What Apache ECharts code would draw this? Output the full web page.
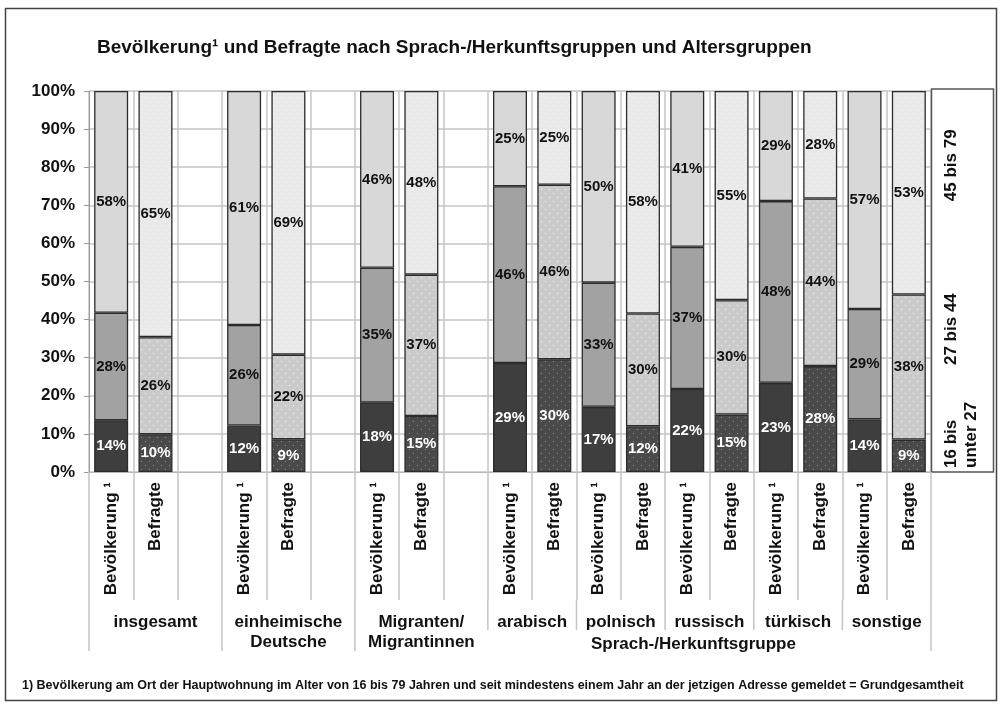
<!DOCTYPE html>
<html>
<head>
<meta charset="utf-8">
<script src="https://cdn.jsdelivr.net/npm/echarts@6/dist/echarts.min.js"></script>
<style>
html,body{margin:0;padding:0;background:#fff;}
#c{width:1003px;height:708px;}
</style>
</head>
<body>
<div id="c"></div>
<script>
// ---- data ----
const titleText = 'Bevölkerung¹ und Befragte nach Sprach-/Herkunftsgruppen und Altersgruppen';
const footnote = '1) Bevölkerung am Ort der Hauptwohnung im Alter von 16 bis 79 Jahren und seit mindestens einem Jahr an der jetzigen Adresse gemeldet = Grundgesamtheit';
const slotLabels = [
  'Bevölkerung ¹','Befragte','',
  'Bevölkerung ¹','Befragte','',
  'Bevölkerung ¹','Befragte','',
  'Bevölkerung ¹','Befragte',
  'Bevölkerung ¹','Befragte',
  'Bevölkerung ¹','Befragte',
  'Bevölkerung ¹','Befragte',
  'Bevölkerung ¹','Befragte'
];
const groupLabels = ['insgesamt','einheimische\nDeutsche','Migranten/\nMigrantinnen','arabisch','polnisch','russisch','türkisch','sonstige'];
const groupSpans = [3,3,3,2,2,2,2,2];
const superGroupLabel = 'Sprach-/Herkunftsgruppe';
const superGroupFirst = 3; // first group index belonging to the super group
const ageLabels = ['16 bis\nunter 27','27 bis 44','45 bis 79'];
const age16to26 = [13.6, 9.9, null, 12.2, 8.6, null, 18.2, 14.7, null, 28.6, 29.6, 17.1, 12.0, 21.8, 15.1, 23.4, 27.8, 13.8, 8.5];
const age27to44 = [28.2, 25.5, null, 26.4, 22.2, null, 35.4, 37.1, null, 46.4, 45.8, 32.6, 29.6, 37.3, 30.0, 47.7, 44.0, 29.0, 38.1];
const age45to79 = [58.2, 64.6, null, 61.4, 69.2, null, 46.4, 48.2, null, 25.0, 24.6, 50.3, 58.4, 40.9, 54.9, 28.9, 28.2, 57.2, 53.4];
const yTicks = [0,10,20,30,40,50,60,70,80,90,100];

// ---- styling ----
const FONT = '"Liberation Sans", Arial, Helvetica, sans-serif';
function dots(bg, dot){
  const c = document.createElement('canvas');
  c.width = 8; c.height = 8;
  const g = c.getContext('2d');
  g.fillStyle = bg; g.fillRect(0,0,8,8);
  g.fillStyle = dot;
  g.fillRect(1,1,1,1); g.fillRect(5,5,1,1);
  return {image: c, repeat: 'repeat'};
}
const solidColors = ['#3e3e3e','#a2a2a2','#d8d8d8'];
const patColors = [dots('#4a4a4a','#8c8c8c'), dots('#cbcbcb','#f2f2f2'), dots('#e9e9e9','#ffffff')];
const labelColors = ['#ffffff','#111111','#111111'];

function makeSeries(values, k){
  return {
    type: 'bar',
    stack: 'all',
    barWidth: 34,
    data: values.map((v,i)=>{
      if (v === null) return '-';
      const isResp = slotLabels[i] === 'Befragte';
      return {value: v, itemStyle: {color: isResp ? patColors[k] : solidColors[k]}};
    }),
    itemStyle: {borderColor: '#2b2b2b', borderWidth: 1.3},
    label: {
      show: true, position: 'inside',
      formatter: p => Math.round(p.value) + '%',
      color: labelColors[k], fontFamily: FONT, fontWeight: 'bold', fontSize: 15
    },
    emphasis: {disabled: true},
    silent: true
  };
}

const chart = echarts.init(document.getElementById('c'), null, {renderer: 'canvas'});
const option = {
  animation: false,
  backgroundColor: '#ffffff',
  grid: {left: 89, right: 72, top: 91, bottom: 236, containLabel: false},
  xAxis: {
    type: 'category',
    data: slotLabels,
    axisLine: {show: true, lineStyle: {color: '#b8b8b8', width: 1}},
    axisTick: {show: true, length: 128, lineStyle: {color: '#c4c4c4', width: 1.5}},
    splitLine: {show: true, lineStyle: {color: '#c4c4c4', width: 1.5}},
    axisLabel: {
      interval: 0, rotate: 90, margin: 10,
      fontFamily: FONT, fontWeight: 'bold', fontSize: 17, color: '#111'
    }
  },
  yAxis: {
    type: 'value', min: yTicks[0], max: yTicks[yTicks.length-1], interval: 10,
    axisLine: {show: true, lineStyle: {color: '#9a9a9a', width: 1}},
    axisTick: {show: true, length: 5, lineStyle: {color: '#9a9a9a'}},
    splitLine: {show: true, lineStyle: {color: '#c4c4c4', width: 1.5}},
    axisLabel: {
      margin: 14, formatter: '{value}%',
      fontFamily: FONT, fontWeight: 'bold', fontSize: 17, color: '#111'
    }
  },
  series: [makeSeries(age16to26,0), makeSeries(age27to44,1), makeSeries(age45to79,2)]
};
chart.setOption(option);

// ---- annotations positioned from the axis scales ----
const c0 = chart.convertToPixel({xAxisIndex: 0}, 0);
const c1 = chart.convertToPixel({xAxisIndex: 0}, 1);
const slotW = c1 - c0;
const bx = k => c0 - slotW/2 + k*slotW;
const yBase = chart.convertToPixel({yAxisIndex: 0}, 0);
const yTop = chart.convertToPixel({yAxisIndex: 0}, 100);
const tickEnd = yBase + 128;

const gfx = [];
// outer frame
gfx.push({type:'rect', shape:{x:5.5, y:8.5, width:991, height:692}, style:{fill:'none', stroke:'#444', lineWidth:1.5}, z:0});
// title
gfx.push({type:'text', x: 97, y: 48, style:{text: titleText, font: 'bold 19px ' + FONT, fill:'#111', textVerticalAlign:'middle'}});
// footnote
gfx.push({type:'text', x: 22, y: 686, style:{text: footnote, font: 'bold 12.5px ' + FONT, fill:'#111', textVerticalAlign:'middle'}});
// group separators and labels
let start = 0;
groupLabels.forEach((lab, gi) => {
  const end = start + groupSpans[gi];
  const xL = bx(start), xR = bx(end);
  const longLine = gi < superGroupFirst;
  gfx.push({type:'line', shape:{x1:xL, y1:tickEnd, x2:xL, y2: longLine ? tickEnd+51 : tickEnd+30}, style:{stroke:'#c4c4c4', lineWidth:1.5}});
  gfx.push({type:'text', x:(xL+xR)/2, y: tickEnd+12, style:{text: lab, font:'bold 17px ' + FONT, fill:'#111', textAlign:'center', textVerticalAlign:'top', lineHeight: 20}});
  start = end;
});
// last closing separator
gfx.push({type:'line', shape:{x1:bx(start), y1:tickEnd, x2:bx(start), y2:tickEnd+51}, style:{stroke:'#c4c4c4', lineWidth:1.5}});
// super group label
let sgStart = 0; for (let i=0;i<superGroupFirst;i++) sgStart += groupSpans[i];
gfx.push({type:'text', x:(bx(sgStart)+bx(start))/2 - 16, y: tickEnd+44, style:{text: superGroupLabel, font:'bold 17px ' + FONT, fill:'#111', textAlign:'center', textVerticalAlign:'middle'}});
// age legend box
const boxL = bx(start) + 0.5;
gfx.push({type:'rect', shape:{x: boxL, y: yTop - 2, width: 62, height: yBase - yTop + 2}, style:{fill:'#fff', stroke:'#555', lineWidth:1.5}});
const ageY = [yBase - 4, chart.convertToPixel({yAxisIndex:0}, 37.5), chart.convertToPixel({yAxisIndex:0}, 80.5)];
ageLabels.forEach((lab, i) => {
  gfx.push({type:'text', x: boxL + 10, y: ageY[i], rotation: Math.PI/2,
    style:{text: lab, font:'bold 17px ' + FONT, fill:'#111', textAlign: i === 0 ? 'left' : 'center', textVerticalAlign:'top', lineHeight: 20}});
});
chart.setOption({graphic: gfx});
</script>
</body>
</html>
